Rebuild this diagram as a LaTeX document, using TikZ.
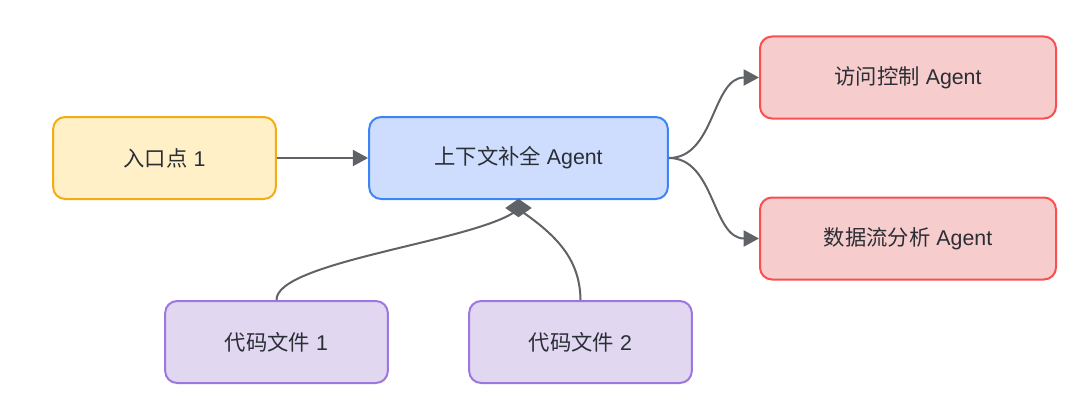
\documentclass[tikz,border=0pt]{standalone}
\usepackage{fontspec}
\setmainfont{Noto Sans CJK SC}
\newfontfamily\lat{Liberation Sans}
\usetikzlibrary{arrows.meta,shapes.geometric}
\definecolor{yfill}{HTML}{FFF0C8}
\definecolor{ydraw}{HTML}{F5AB14}
\definecolor{bfill}{HTML}{CEDDFE}
\definecolor{bdraw}{HTML}{3D85F5}
\definecolor{rfill}{HTML}{F6CCCC}
\definecolor{rdraw}{HTML}{FA4E50}
\definecolor{pfill}{HTML}{E1D7F1}
\definecolor{pdraw}{HTML}{9B77DE}
\definecolor{edge}{HTML}{5F6266}
\definecolor{txt}{HTML}{2A2E35}
\begin{document}
\begin{tikzpicture}[x=0.75pt,y=-0.75pt,
  box/.style={draw,line width=1.5pt,rounded corners=9pt,minimum height=61.5pt,
    text=txt,font=\fontsize{16pt}{19pt}\selectfont,inner sep=0pt},
  narrow/.style={box,minimum width=167pt},
  yel/.style={fill=yfill,draw=ydraw},
  blu/.style={fill=bfill,draw=bdraw},
  red/.style={fill=rfill,draw=rdraw},
  pur/.style={fill=pfill,draw=pdraw},
  conn/.style={draw=edge,line width=1.5pt,-{Triangle[length=11.5pt,width=12pt]}},
  plain/.style={draw=edge,line width=1.5pt},
]
\useasboundingbox (0,0) rectangle (1080,403);
\node[narrow,yel] (entry) at (164.5,158) {入口点{\lat\ 1}};
\node[box,minimum width=224pt,blu] (ctx) at (518.5,158) {上下文补全{\lat\ Agent}};
\node[box,minimum width=222pt,red] (acc) at (908,77.5) {访问控制{\lat\ Agent}};
\node[box,minimum width=222pt,red] (flow) at (908,238.5) {数据流分析{\lat\ Agent}};
\node[narrow,pur] (cf1) at (276.5,342) {代码文件{\lat\ 1}};
\node[narrow,pur] (cf2) at (580.5,342) {代码文件{\lat\ 2}};
\node[diamond,fill=edge,inner sep=0pt,minimum width=20pt,minimum height=14pt] (dia) at (518.5,208) {};

\draw[conn] (entry.east) -- (ctx.west);
\draw[conn] (ctx.east) .. controls (715,158) and (712,77.5) .. (acc.west);
\draw[conn] (ctx.east) .. controls (715,158) and (712,238.5) .. (flow.west);
\draw[plain] (cf1.north) .. controls (276,262) and (470,242) .. ([shift={(-4,4)}]dia.center);
\draw[plain] (cf2.north) .. controls (580,262) and (560,238) .. ([shift={(4,4)}]dia.center);
\end{tikzpicture}
\end{document}
